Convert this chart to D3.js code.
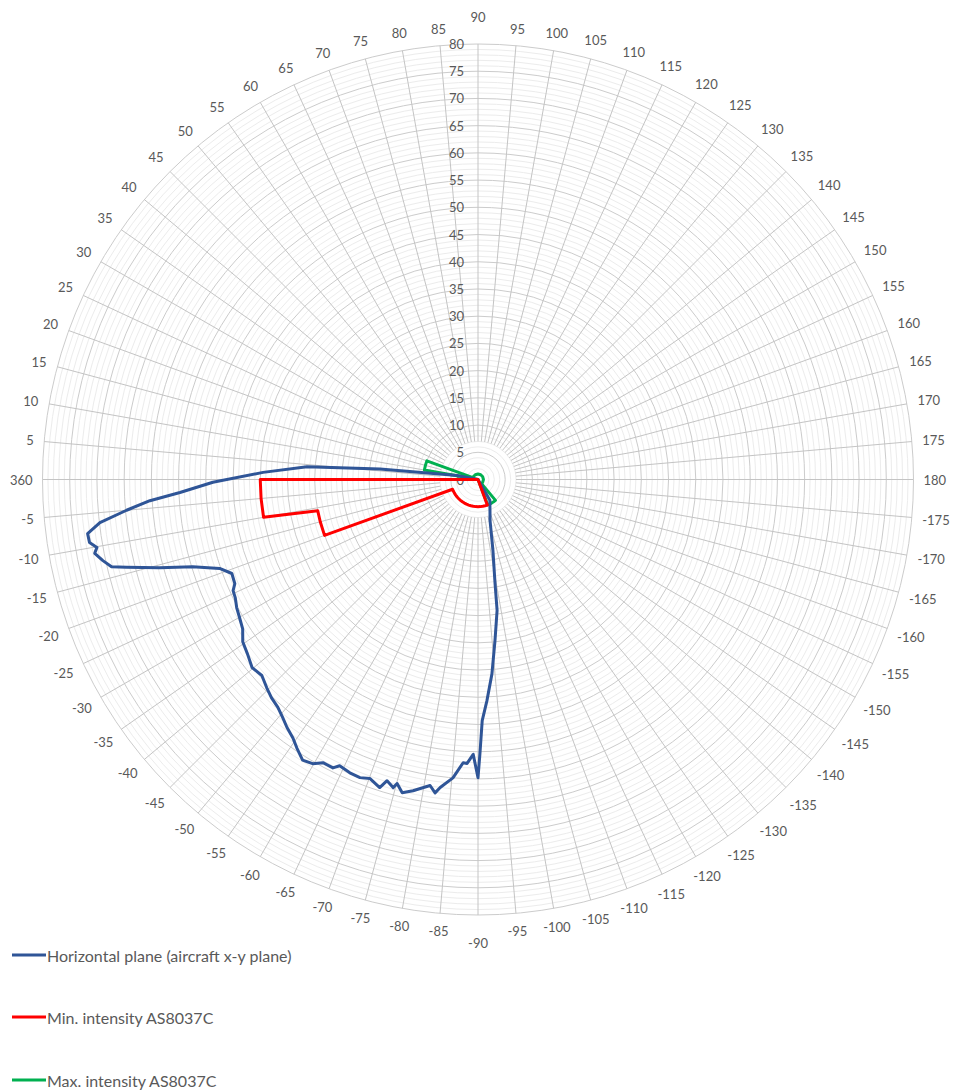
<!DOCTYPE html>
<html>
<head>
<meta charset="utf-8">
<script src="https://cdn.jsdelivr.net/npm/d3@7"></script>
<style>
  body { margin: 0; background: #fff; }
  text { font-family: Lato, "Open Sans", sans-serif; fill: #595959; }
</style>
</head>
<body>
<svg id="chart" width="953" height="1092"></svg>
<script>
// category labels round the rim, clockwise from the top
var catLabels = [90, 95, 100, 105, 110, 115, 120, 125, 130, 135, 140, 145, 150, 155, 160, 165, 170, 175, 180,
  -175, -170, -165, -160, -155, -150, -145, -140, -135, -130, -125, -120, -115, -110, -105, -100, -95, -90,
  -85, -80, -75, -70, -65, -60, -55, -50, -45, -40, -35, -30, -25, -20, -15, -10, -5,
  360, 5, 10, 15, 20, 25, 30, 35, 40, 45, 50, 55, 60, 65, 70, 75, 80, 85];

// Horizontal plane (aircraft x-y plane)
var blueAz = [-125, -119.7, -106.3, -101.9, -99.3, -98.3, -96, -94.1, -92.3, -91, -90.4, -90, -89, -87.8, -87,
  -85.2, -83, -82.2, -81.1, -78.2, -76.4, -75.1, -74.6, -73.2, -72.3, -70.1, -68.4, -66.4, -64.2, -63.3, -61.3,
  -59.8, -58, -56, -54.4, -52.4, -50.7, -48.7, -46.6, -44.6, -42.2, -39.8, -37.1, -34.6, -32.4, -30, -28, -26,
  -24.4, -23.2, -20.9, -19, -17, -15.5, -14, -13.4, -12.2, -10.9, -10.1, -9.2, -7.9, -6.5, -5, -3.7, -2.5, -0.6,
  1.9, 4.3, 6.1, 10.8, 12];
var blueVal = [0, 4.4, 7.9, 13.3, 19.4, 24.3, 29.8, 35.8, 40.7, 44.3, 50.4, 54.8, 50.5, 52.2, 52.1,
  55, 57, 58.1, 56.9, 58.4, 59.2, 57.8, 58.7, 57.8, 59.4, 58.4, 58.9, 58.8, 58.4, 59.3, 59.3,
  60.4, 60.8, 59.5, 58.4, 57.5, 56.6, 55.7, 55.2, 54.5, 53.6, 54, 53.1, 52.5, 51.2, 50.6, 50.2, 49.6,
  49.4, 48.6, 48.4, 50.2, 54.8, 60.7, 66.6, 69.2, 70.5, 71.7, 71.1, 72.3, 72.4, 69.9, 64.8, 60.4, 54.8, 48.7,
  39.5, 31.5, 18.1, 3.9, 0];

// Min. intensity AS8037C
var redAz = [-111, -110, -105, -100, -95, -90, -85, -80, -75, -70, -65, -60, -55, -50, -45, -40, -35, -30, -25, -21,
  -20, -15, -11, -10, -5, 0, 1];
var redVal = [0, 5, 5, 5, 5, 5, 5, 5, 5, 5, 5, 5, 5, 5, 5, 5, 5, 5, 5, 5,
  30, 30, 30, 40, 40, 40, 0];

// Max. intensity AS8037C
var greenAz = [90, 120, 150, 180, -150, -131, -130, -125, -120, -115, -111, -110, 9, 10, 15, 20, 21, 30, 60];
var greenVal = [1, 1, 1, 1, 1, 1, 5, 5, 5, 5, 5, 0, 0, 10, 10, 10, 1, 1, 1];

var seriesNames = ["Horizontal plane (aircraft x-y plane)", "Min. intensity AS8037C", "Max. intensity AS8037C"];
var seriesColors = ["#2f5597", "#ff0000", "#00b050"];

var svg = d3.select("#chart");
var cx = 478, cy = 479.5, outer = 435.5;

var r = d3.scaleLinear().domain([0, 80]).range([0, outer]);
// azimuth label -> angle, 90 at the top, going clockwise
var ang = d3.scaleLinear().domain([90, 450]).range([0, 2 * Math.PI]);
function norm(a) { return a < 90 ? a + 360 : a; }

var g = svg.append("g").attr("transform", "translate(" + cx + "," + cy + ")");

// rings
var ringVals = d3.range(1, 81);
g.selectAll("circle.ring")
  .data(ringVals)
  .enter()
  .append("circle")
  .attr("r", d => r(d))
  .attr("fill", "none")
  .attr("stroke", d => d % 5 == 0 ? "#cccccc" : "#ececec")
  .attr("stroke-width", 1);

// spokes
g.selectAll("line.spoke")
  .data(catLabels)
  .enter()
  .append("line")
  .attr("x1", d => r(7) * Math.sin(ang(norm(d))))
  .attr("y1", d => -r(7) * Math.cos(ang(norm(d))))
  .attr("x2", d => r(80) * Math.sin(ang(norm(d))))
  .attr("y2", d => -r(80) * Math.cos(ang(norm(d))))
  .attr("stroke", "#c4c4c4")
  .attr("stroke-width", 1);

// radial axis labels
g.selectAll("text.rtick")
  .data(r.ticks(16))
  .enter()
  .append("text")
  .attr("x", -14)
  .attr("y", d => -r(d))
  .attr("text-anchor", "end")
  .attr("dominant-baseline", "central")
  .attr("font-size", 13)
  .text(d => d);

// category labels, box kept a fixed gap off the rim
g.selectAll("text.cat")
  .data(catLabels)
  .enter()
  .append("text")
  .attr("text-anchor", "middle")
  .attr("dominant-baseline", "central")
  .attr("font-size", 13)
  .text(d => d)
  .each(function(d) {
    var a = ang(norm(d));
    var s = Math.sin(a), c = Math.cos(a);
    var hw = this.getComputedTextLength() / 2, hh = 6.5;
    var gap = Math.abs(s) < 1e-6 ? 21 : 10;
    var dist = outer + gap + hw * Math.abs(s) + hh * Math.abs(c);
    d3.select(this).attr("x", dist * s).attr("y", -dist * c);
  });

var radial = d3.lineRadial()
  .angle(d => ang(norm(d[0])))
  .radius(d => r(d[1]))
  .curve(d3.curveLinearClosed);

var series = [
  d3.zip(blueAz, blueVal),
  d3.zip(redAz, redVal),
  d3.zip(greenAz, greenVal)
];

// green first, then blue, red on top
[2, 0, 1].forEach(function(i) {
  g.append("path")
    .datum(series[i])
    .attr("d", radial)
    .attr("fill", "none")
    .attr("stroke", seriesColors[i])
    .attr("stroke-width", 3)
    .attr("stroke-linejoin", "round");
});

// legend
var legY = [955, 1017, 1080];
var leg = svg.selectAll("g.leg")
  .data(seriesNames)
  .enter()
  .append("g")
  .attr("transform", (d, i) => "translate(0," + legY[i] + ")");
leg.append("line")
  .attr("x1", 12).attr("x2", 46)
  .attr("stroke", (d, i) => seriesColors[i])
  .attr("stroke-width", 3);
leg.append("text")
  .attr("x", 47)
  .attr("dominant-baseline", "central")
  .attr("font-size", 16)
  .text(d => d);
</script>
</body>
</html>
